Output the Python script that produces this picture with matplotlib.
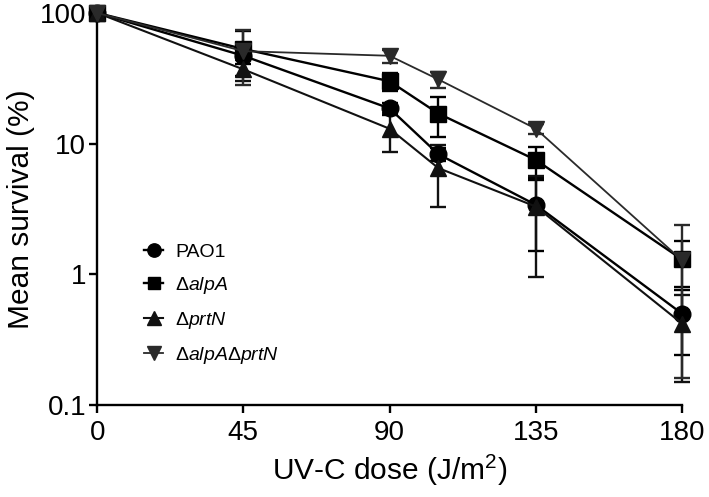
"""UV-C survival curves for PAO1 and protease mutants."""

import matplotlib

matplotlib.use("Agg")
import matplotlib.pyplot as plt
from matplotlib.lines import Line2D

plt.rcParams["font.family"] = ["Liberation Sans", "DejaVu Sans"]
plt.rcParams["mathtext.fontset"] = "custom"
plt.rcParams["mathtext.rm"] = "Liberation Sans"
plt.rcParams["mathtext.it"] = "Liberation Sans:italic"

dose = [0, 45, 90, 105, 135, 180]

pao1 = [100, 47, 18.6, 8.3, 3.4, 0.50]
pao1_sd = [0, 6, 2.0, 1.0, 1.9, 0.26]

alpa = [100, 53, 30, 17, 7.5, 1.30]
alpa_sd = [0, 20, 4.8, 5.7, 2.0, 0.50]

prtn = [100, 37, 13, 6.5, 3.3, 0.42]
prtn_sd = [0, 7, 4.3, 3.2, 2.35, 0.27]

double = [100, 51, 47, 31, 13, 1.28]
double_sd = [0, 23, 5.5, 4.5, 1.1, 1.12]

labels = ["PAO1", r"Δ$\mathit{alpA}$", r"Δ$\mathit{prtN}$",
          r"Δ$\mathit{alpA}$Δ$\mathit{prtN}$"]

series = [
    (pao1, pao1_sd, "o", "#000000", 1.7, 12),
    (alpa, alpa_sd, "s", "#000000", 1.7, 11.5),
    (prtn, prtn_sd, "^", "#111111", 1.5, 12),
    (double, double_sd, "v", "#2a2a2a", 1.3, 12),
]

fig = plt.figure(figsize=(7.09, 4.97), dpi=100)
ax = fig.add_axes([0.137, 0.185, 0.825, 0.789])

handles = []
for (vals, sd, mk, col, lw, ms), lab in zip(series, labels):
    ax.errorbar(dose, vals, yerr=sd, marker=mk, color=col, mfc=col, mec=col,
                ms=ms, lw=lw, elinewidth=1.7, capsize=6, capthick=1.7,
                clip_on=False, zorder=3)
    handles.append(Line2D([], [], marker=mk, color=col, mfc=col, mec=col,
                          ms=ms * 0.8, lw=lw, label=lab))

ax.set_yscale("log")
ax.set_ylim(0.1, 100)
ax.set_xlim(0, 180)
ax.set_xticks([0, 45, 90, 135, 180])
ax.set_yticks([0.1, 1, 10, 100])
ax.set_yticklabels(["0.1", "1", "10", "100"])
ax.minorticks_off()

for side in ("top", "right"):
    ax.spines[side].set_visible(False)
for side in ("left", "bottom"):
    ax.spines[side].set_linewidth(1.7)
ax.tick_params(direction="out", length=6, width=1.7, labelsize=20, pad=2)
ax.tick_params(axis="x", pad=5)

ax.set_xlabel("UV-C dose (J/m$^2$)", fontsize=21.5, labelpad=5)
ax.set_ylabel("Mean survival (%)", fontsize=21.5, labelpad=3)

ax.legend(handles=handles, loc="upper left", bbox_to_anchor=(0.05, 0.458),
          frameon=False, fontsize=14, handlelength=1.0, handletextpad=0.6,
          labelspacing=0.72)

fig.savefig("out.png", dpi=100)
